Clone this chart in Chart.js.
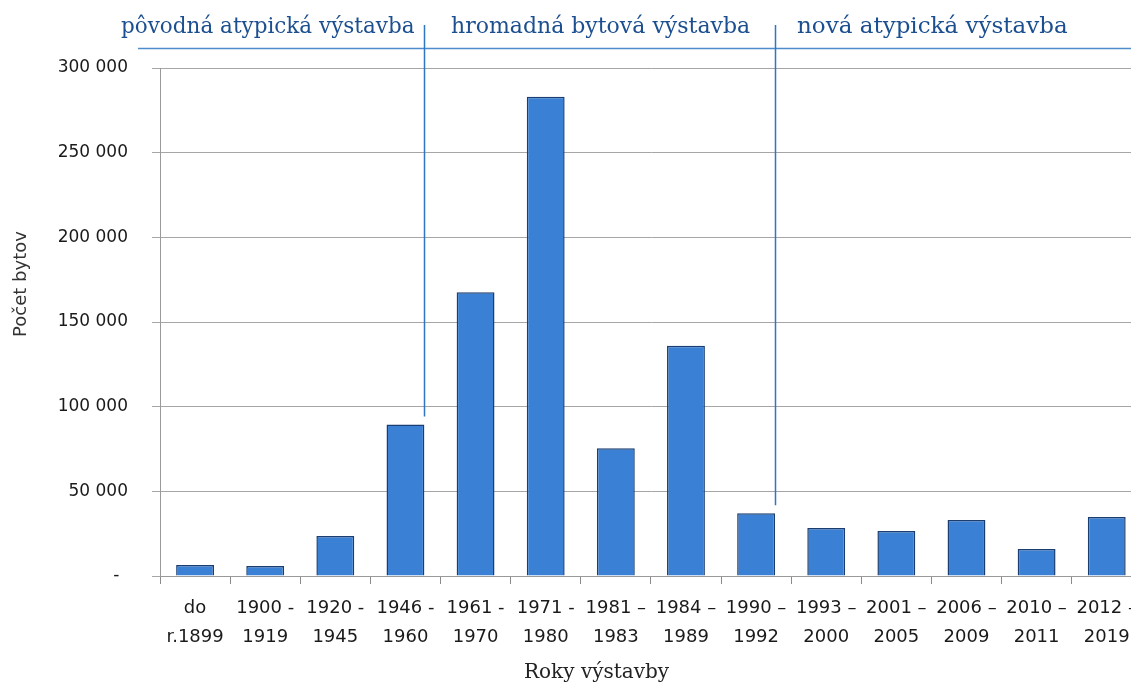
<!DOCTYPE html>
<html><head><meta charset="utf-8">
<script src="https://cdn.jsdelivr.net/npm/chart.js@4.4.1/dist/chart.umd.min.js"></script>
<style>
html,body{margin:0;padding:0;overflow:hidden;background:#fff}
#wrap{width:1147px;height:684px;position:relative}
</style>
</head><body>
<div id="wrap"><canvas id="c" width="1147" height="684"></canvas></div>
<script>
const categories = [
  ["do","r.1899"],["1900 -","1919"],["1920 -","1945"],["1946 -","1960"],
  ["1961 -","1970"],["1971 -","1980"],["1981 –","1983"],["1984 –","1989"],
  ["1990 –","1992"],["1993 –","2000"],["2001 –","2005"],["2006 –","2009"],
  ["2010 –","2011"],["2012 –","2019"]
];
const dwellings = [6500, 5900, 23600, 89500, 167500, 283000, 75500, 136000, 37000, 28300, 26600, 33000, 16000, 34800];
const yTickValues = [0, 50000, 100000, 150000, 200000, 250000, 300000];
const periodLabels = ["pôvodná atypická výstavba", "hromadná bytová výstavba", "nová atypická výstavba"];
const periodBoundaryIndex = [3, 8];
const yTitle = "Počet bytov";
const xTitle = "Roky výstavby";

function fmt(v){ return v.toString().replace(/\B(?=(\d{3})+(?!\d))/g, ' '); }

const annot = {
  id: 'annot',
  afterDraw(chart){
    const ctx = chart.ctx;
    const ys = chart.scales.y;
    const meta = chart.getDatasetMeta(0);
    ctx.save();
    ctx.fillStyle = '#1c4f8f';
    ctx.textBaseline = 'alphabetic';
    ctx.textAlign = 'left';
    const hx = [121, 451, 797];
    const hs = [21.5, 22, 23];
    periodLabels.forEach((t,i)=>{ ctx.font = hs[i] + 'px "DejaVu Serif"'; ctx.fillText(t, hx[i], 33); });
    ctx.strokeStyle = '#4d8dcc';
    ctx.lineWidth = 1.5;
    ctx.beginPath(); ctx.moveTo(138, 48.5); ctx.lineTo(chart.width, 48.5); ctx.stroke();
    ctx.strokeStyle = '#2f77c2';
    periodBoundaryIndex.forEach(i=>{
      const bar = meta.data[i];
      const x = Math.round(bar.x + bar.width/2) + 0.5;
      const yEnd = ys.getPixelForValue(dwellings[i]) - 8;
      ctx.beginPath(); ctx.moveTo(x, 25); ctx.lineTo(x, yEnd); ctx.stroke();
    });
    ctx.fillStyle = '#222';
    ctx.font = '20px "DejaVu Serif"';
    ctx.textAlign = 'left';
    ctx.textBaseline = 'middle';
    ctx.fillText(xTitle, 524, 673);
    ctx.save();
    ctx.translate(21, 284);
    ctx.rotate(-Math.PI/2);
    ctx.textAlign = 'center';
    ctx.font = '18px "DejaVu Sans"';
    ctx.fillStyle = '#333';
    ctx.fillText(yTitle, 0, 0);
    ctx.restore();
    ctx.restore();
  }
};

new Chart(document.getElementById('c'), {
  type: 'bar',
  data: {
    labels: categories,
    datasets: [{
      data: dwellings,
      backgroundColor: '#3a80d4',
      borderColor: '#1b3e72',
      borderWidth: 1.5,
      categoryPercentage: 1,
      barPercentage: 0.54
    }]
  },
  options: {
    responsive: false,
    animation: false,
    layout: { padding: { top: 68, left: 0, right: 0, bottom: 0 } },
    plugins: { legend: { display: false }, tooltip: { enabled: false } },
    scales: {
      x: {
        grid: { display: true, drawOnChartArea: false, drawTicks: true, tickLength: 8, color: '#8a8a8a', offset: true },
        border: { display: true, color: '#9a9a9a' },
        ticks: { font: { family: 'DejaVu Sans', size: 18, lineHeight: 1.6 }, color: '#1a1a1a', padding: 10, maxRotation: 0, autoSkip: false },
        afterFit(s){ s.height = 108; }
      },
      y: {
        min: 0, max: 300000,
        afterBuildTicks(s){ s.ticks = yTickValues.map(v => ({ value: v })); },
        ticks: { callback: v => v === 0 ? '-\u2002' : fmt(v), font: { family: 'DejaVu Sans', size: 17 }, color: '#1a1a1a', padding: 24 },
        grid: { color: '#a6a6a6', tickLength: 8 },
        border: { display: true, color: '#9a9a9a' },
        afterFit(s){ s.width = 160; }
      }
    }
  },
  plugins: [annot]
});
</script>
</body></html>
